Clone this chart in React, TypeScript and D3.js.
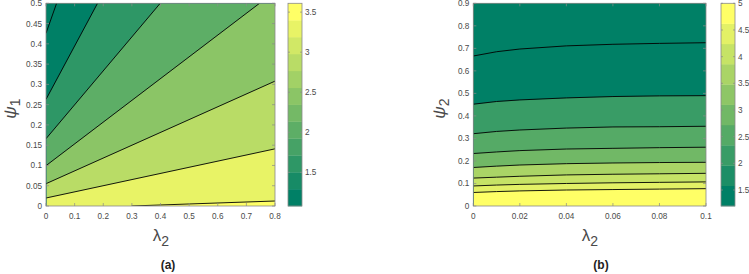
import React from "react";
import * as d3 from "d3";

// ---------- data ----------
// Panel (a): contour lines (λ2, ψ1), ordered from top-left to bottom-right
const linesA: [number, number][][] = [
  [[0, 0.426], [0.037, 0.5]],
  [[0, 0.263], [0.18, 0.5]],
  [[0, 0.166], [0.399, 0.5]],
  [[0, 0.0995], [0.746, 0.5]],
  [[0, 0.055], [0.8, 0.308]],
  [[0, 0.0197], [0.8, 0.141]],
  [[0.299, 0], [0.5, 0.005], [0.8, 0.0123]],
];
// colormap index of each region (above line 0, between lines, below last line)
const regionsA = [0, 0, 2, 4, 6, 8, 10, 11];
const xTicksA = [0, 0.1, 0.2, 0.3, 0.4, 0.5, 0.6, 0.7, 0.8];
const yTicksA = [0, 0.05, 0.1, 0.15, 0.2, 0.25, 0.3, 0.35, 0.4, 0.45, 0.5];
const cbDomainA: [number, number] = [1.08, 3.61];
const cbTicksA = [1.5, 2, 2.5, 3, 3.5];
const cbBandsA = 12;

// Panel (b): contour lines (λ2, ψ2), ordered from top to bottom
const linesB: [number, number][][] = [
  [[0, 0.666], [0.01, 0.685], [0.02, 0.697], [0.04, 0.711], [0.06, 0.718], [0.08, 0.722], [0.1, 0.725]],
  [[0, 0.452], [0.01, 0.464], [0.02, 0.471], [0.04, 0.48], [0.06, 0.486], [0.08, 0.489], [0.1, 0.49]],
  [[0, 0.321], [0.01, 0.331], [0.02, 0.3375], [0.04, 0.346], [0.06, 0.351], [0.08, 0.352], [0.1, 0.354]],
  [[0, 0.233], [0.01, 0.24], [0.02, 0.246], [0.04, 0.253], [0.06, 0.256], [0.08, 0.259], [0.1, 0.261]],
  [[0, 0.171], [0.01, 0.177], [0.02, 0.182], [0.04, 0.188], [0.06, 0.191], [0.08, 0.193], [0.1, 0.194]],
  [[0, 0.124], [0.01, 0.128], [0.02, 0.132], [0.04, 0.138], [0.06, 0.141], [0.08, 0.143], [0.1, 0.145]],
  [[0, 0.089], [0.01, 0.093], [0.02, 0.096], [0.04, 0.1], [0.06, 0.103], [0.08, 0.105], [0.1, 0.107]],
  [[0, 0.06], [0.01, 0.064], [0.02, 0.067], [0.04, 0.071], [0.06, 0.073], [0.08, 0.075], [0.1, 0.077]],
];
const regionsB = [0, 0, 2, 3, 4, 6, 7, 8, 9];
const xTicksB = [0, 0.02, 0.04, 0.06, 0.08, 0.1];
const yTicksB = [0, 0.1, 0.2, 0.3, 0.4, 0.5, 0.6, 0.7, 0.8, 0.9];
const cbDomainB: [number, number] = [1.2, 5.0];
const cbTicksB = [1.5, 2, 2.5, 3, 3.5, 4, 4.5, 5];
const cbBandsB = 10;

// ---------- styling ----------
const FONT = "'Liberation Sans', Arial, Helvetica, sans-serif";
const AXIS_COLOR = "#8a8a8a";
const TEXT_COLOR = "#4a4a4a";

function summer(n: number, i: number): string {
  const t = n <= 1 ? 0 : i / (n - 1);
  return d3.rgb(255 * t, 255 * (0.5 + 0.5 * t), 102).toString();
}

type PanelProps = {
  id: string;
  lines: [number, number][][];
  regions: number[];
  nColors: number;
  xDomain: [number, number];
  yDomain: [number, number];
  xTicks: number[];
  yTicks: number[];
  left: number;
  right: number;
  top: number;
  bottom: number;
  yLabelSub: string;
  yLabelX: number;
  xLabelX: number;
  caption: string;
  captionX: number;
  cbLeft: number;
  cbRight: number;
  cbDomain: [number, number];
  cbTicks: number[];
};

function Panel(p: PanelProps) {
  const x = d3.scaleLinear().domain(p.xDomain).range([p.left, p.right]);
  const y = d3.scaleLinear().domain(p.yDomain).range([p.bottom, p.top]);
  const line = d3
    .line<[number, number]>()
    .x((d) => x(d[0]))
    .y((d) => y(d[1]));
  const [x0, x1] = p.xDomain;
  const [y0, y1] = p.yDomain;
  const n = p.lines.length;
  const polys = [];
  for (let k = n - 1; k >= 0; k--) {
    const pts: [number, number][] = [...p.lines[k], [x1, y1], [x0, y1], [x0, y0]];
    polys.push(
      <path
        key={"poly" + k}
        d={line(pts) + "Z"}
        fill={summer(p.nColors, p.regions[k])}
        stroke={summer(p.nColors, p.regions[k])}
        strokeWidth={0.3}
      />
    );
  }
  const tl = 3;
  const cy = d3.scaleLinear().domain(p.cbDomain).range([p.bottom, p.top]);
  const bands = d3.range(p.nColors);
  const bandH = (p.bottom - p.top) / p.nColors;
  return (
    <g>
      <defs>
        <clipPath id={"clip" + p.id}>
          <rect x={p.left} y={p.top} width={p.right - p.left} height={p.bottom - p.top} />
        </clipPath>
      </defs>
      <g clipPath={`url(#clip${p.id})`}>
        <rect
          x={p.left}
          y={p.top}
          width={p.right - p.left}
          height={p.bottom - p.top}
          fill={summer(p.nColors, p.regions[n])}
        />
        {polys}
        {p.lines.map((l, i) => (
          <path key={"l" + i} d={line(l) || ""} fill="none" stroke="#000" strokeWidth={0.9} />
        ))}
      </g>
      {/* box */}
      <rect
        x={p.left}
        y={p.top}
        width={p.right - p.left}
        height={p.bottom - p.top}
        fill="none"
        stroke={AXIS_COLOR}
        strokeWidth={0.8}
      />
      {/* x ticks */}
      {p.xTicks.map((t) => (
        <g key={"xt" + t}>
          <line x1={x(t)} x2={x(t)} y1={p.bottom} y2={p.bottom - tl} stroke={AXIS_COLOR} strokeWidth={0.7} />
          <line x1={x(t)} x2={x(t)} y1={p.top} y2={p.top + tl} stroke={AXIS_COLOR} strokeWidth={0.7} />
          <text
            x={x(t)}
            y={p.bottom + 13}
            textAnchor="middle"
            fontSize={8.2}
            fontFamily={FONT}
            fill={TEXT_COLOR}
          >
            {String(t)}
          </text>
        </g>
      ))}
      {/* y ticks */}
      {p.yTicks.map((t) => (
        <g key={"yt" + t}>
          <line x1={p.left} x2={p.left + tl} y1={y(t)} y2={y(t)} stroke={AXIS_COLOR} strokeWidth={0.7} />
          <line x1={p.right} x2={p.right - tl} y1={y(t)} y2={y(t)} stroke={AXIS_COLOR} strokeWidth={0.7} />
          <text
            x={p.left - 4}
            y={y(t) + 3}
            textAnchor="end"
            fontSize={8.2}
            fontFamily={FONT}
            fill={TEXT_COLOR}
          >
            {String(t)}
          </text>
        </g>
      ))}
      {/* axis labels */}
      <text
        transform={`translate(${p.yLabelX},${(p.top + p.bottom) / 2 + 4}) rotate(-90)`}
        textAnchor="middle"
        fontFamily={FONT}
        fontSize={17}
        fill={TEXT_COLOR}
      >
        <tspan fontStyle="italic">ψ</tspan>
        <tspan dy={4} fontSize={14}>
          {p.yLabelSub}
        </tspan>
      </text>
      <text x={p.xLabelX} y={241} textAnchor="middle" fontFamily={FONT} fontSize={17} fill={TEXT_COLOR}>
        <tspan>λ</tspan>
        <tspan dy={5} fontSize={14}>
          2
        </tspan>
      </text>
      <text
        x={p.captionX}
        y={269}
        textAnchor="middle"
        fontFamily={FONT}
        fontSize={12}
        fontWeight="bold"
        fill="#222"
      >
        {p.caption}
      </text>
      {/* colorbar */}
      {bands.map((i) => (
        <rect
          key={"cb" + i}
          x={p.cbLeft}
          y={p.bottom - (i + 1) * bandH}
          width={p.cbRight - p.cbLeft}
          height={bandH + 0.3}
          fill={summer(p.nColors, i)}
        />
      ))}
      <rect
        x={p.cbLeft}
        y={p.top}
        width={p.cbRight - p.cbLeft}
        height={p.bottom - p.top}
        fill="none"
        stroke={AXIS_COLOR}
        strokeWidth={0.8}
      />
      {p.cbTicks.map((t) => (
        <g key={"cbt" + t}>
          <line x1={p.cbLeft} x2={p.cbLeft + 2} y1={cy(t)} y2={cy(t)} stroke={AXIS_COLOR} strokeWidth={0.7} />
          <line x1={p.cbRight} x2={p.cbRight - 2} y1={cy(t)} y2={cy(t)} stroke={AXIS_COLOR} strokeWidth={0.7} />
          <text
            x={p.cbRight + 3}
            y={cy(t) + 3}
            fontSize={8.2}
            fontFamily={FONT}
            fill={TEXT_COLOR}
          >
            {String(t)}
          </text>
        </g>
      ))}
    </g>
  );
}

export default function App() {
  return (
    <svg
      width={749}
      height={274}
      style={{ position: "absolute", left: 0, top: 0, background: "#fff" }}
    >
      <rect x={0} y={0} width={749} height={274} fill="#fff" />
      <Panel
        id="a"
        lines={linesA}
        regions={regionsA}
        nColors={cbBandsA}
        xDomain={[0, 0.8]}
        yDomain={[0, 0.5]}
        xTicks={xTicksA}
        yTicks={yTicksA}
        left={46}
        right={275}
        top={3.3}
        bottom={206}
        yLabelSub="1"
        yLabelX={16}
        xLabelX={161}
        caption="(a)"
        captionX={168}
        cbLeft={288}
        cbRight={302}
        cbDomain={cbDomainA}
        cbTicks={cbTicksA}
      />
      <Panel
        id="b"
        lines={linesB}
        regions={regionsB}
        nColors={cbBandsB}
        xDomain={[0, 0.1]}
        yDomain={[0, 0.9]}
        xTicks={xTicksB}
        yTicks={yTicksB}
        left={473.3}
        right={706}
        top={3.3}
        bottom={206}
        yLabelSub="2"
        yLabelX={445}
        xLabelX={590}
        caption="(b)"
        captionX={601}
        cbLeft={721}
        cbRight={735}
        cbDomain={cbDomainB}
        cbTicks={cbTicksB}
      />
    </svg>
  );
}
